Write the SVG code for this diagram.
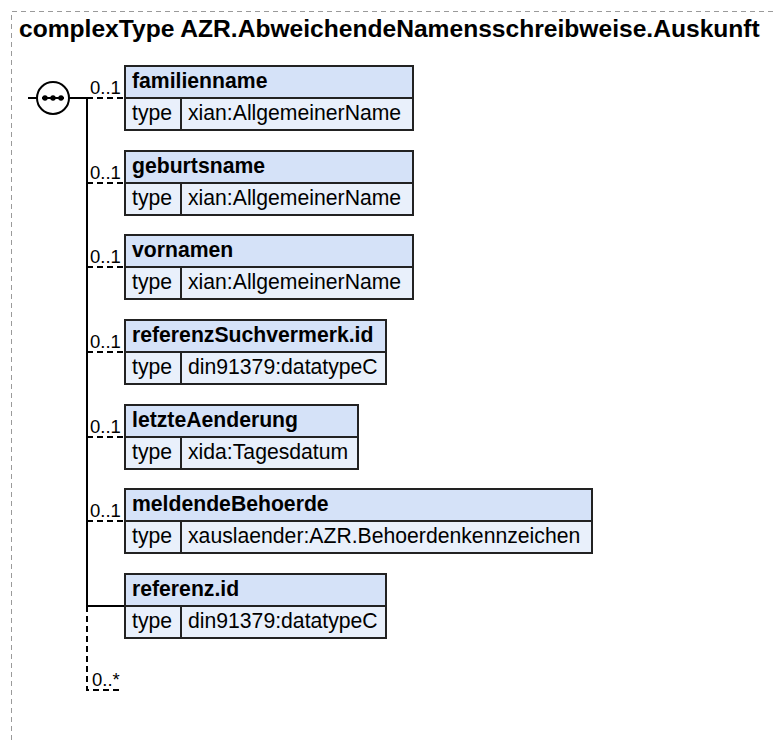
<svg xmlns="http://www.w3.org/2000/svg" width="774" height="740" viewBox="0 0 774 740">
<style>
.frame{fill:none;stroke:#9a9a9a;stroke-width:1;stroke-dasharray:5 4}
.title{font-family:"Liberation Sans",Arial,sans-serif;font-weight:bold;font-size:24.6px;fill:#000}
.hd{fill:#d5e2f8;stroke:#222;stroke-width:2}
.row{fill:#e9f0fb;stroke:#222;stroke-width:2}
.name{font-family:"Liberation Sans",Arial,sans-serif;font-weight:bold;font-size:21.2px;fill:#000}
.txt{font-family:"Liberation Sans",Arial,sans-serif;font-size:21.2px;fill:#000}
.card{font-family:"Liberation Sans",Arial,sans-serif;font-size:18.5px;fill:#000}
.solid{fill:none;stroke:#000;stroke-width:2}
.dash{fill:none;stroke:#000;stroke-width:2;stroke-dasharray:6 4}
</style>
<path class="frame" d="M11.5 740 V11.5 H774"/>
<text class="title" x="19" y="37">complexType AZR.AbweichendeNamensschreibweise.Auskunft</text>

<g id="connectors">
  <line class="solid" x1="28" y1="98" x2="37" y2="98"/>
  <line class="solid" x1="69" y1="98" x2="87" y2="98"/>
  <line class="solid" x1="87" y1="97" x2="87" y2="606"/>
  <line class="solid" x1="87" y1="606" x2="125" y2="606"/>
  <path class="dash" d="M87 606 V690 H122"/>
  <line class="dash" x1="87" y1="98" x2="125" y2="98"/>
  <line class="dash" x1="87" y1="183" x2="125" y2="183"/>
  <line class="dash" x1="87" y1="267" x2="125" y2="267"/>
  <line class="dash" x1="87" y1="352" x2="125" y2="352"/>
  <line class="dash" x1="87" y1="437" x2="125" y2="437"/>
  <line class="dash" x1="87" y1="521" x2="125" y2="521"/>
  <text class="card" x="90" y="94">0..1</text>
  <text class="card" x="90" y="179">0..1</text>
  <text class="card" x="90" y="263">0..1</text>
  <text class="card" x="90" y="348">0..1</text>
  <text class="card" x="90" y="433">0..1</text>
  <text class="card" x="90" y="517">0..1</text>
  <text class="card" x="92" y="686">0..*</text>
</g>

<g id="sequence">
  <ellipse cx="53" cy="98" rx="16" ry="16" fill="#fff" stroke="#000" stroke-width="2"/>
  <line x1="42" y1="98" x2="64" y2="98" stroke="#000" stroke-width="2"/>
  <circle cx="45" cy="98" r="2.7" fill="#000"/>
  <circle cx="53" cy="98" r="2.7" fill="#000"/>
  <circle cx="61" cy="98" r="2.7" fill="#000"/>
</g>

<g id="familienname">
  <rect class="hd" x="125" y="66" width="288" height="32"/>
  <rect class="row" x="125" y="98" width="288" height="32"/>
  <line x1="181" y1="98" x2="181" y2="130" stroke="#222" stroke-width="2"/>
  <text class="name" x="132" y="88">familienname</text>
  <text class="txt" x="132" y="120">type</text>
  <text class="txt" x="188" y="120">xian:AllgemeinerName</text>
</g>

<g id="geburtsname">
  <rect class="hd" x="125" y="151" width="288" height="32"/>
  <rect class="row" x="125" y="183" width="288" height="32"/>
  <line x1="181" y1="183" x2="181" y2="215" stroke="#222" stroke-width="2"/>
  <text class="name" x="132" y="173">geburtsname</text>
  <text class="txt" x="132" y="205">type</text>
  <text class="txt" x="188" y="205">xian:AllgemeinerName</text>
</g>

<g id="vornamen">
  <rect class="hd" x="125" y="235" width="288" height="32"/>
  <rect class="row" x="125" y="267" width="288" height="32"/>
  <line x1="181" y1="267" x2="181" y2="299" stroke="#222" stroke-width="2"/>
  <text class="name" x="132" y="257">vornamen</text>
  <text class="txt" x="132" y="289">type</text>
  <text class="txt" x="188" y="289">xian:AllgemeinerName</text>
</g>

<g id="referenzSuchvermerk.id">
  <rect class="hd" x="125" y="320" width="261" height="32"/>
  <rect class="row" x="125" y="352" width="261" height="32"/>
  <line x1="181" y1="352" x2="181" y2="384" stroke="#222" stroke-width="2"/>
  <text class="name" x="132" y="342">referenzSuchvermerk.id</text>
  <text class="txt" x="132" y="374">type</text>
  <text class="txt" x="188" y="374">din91379:datatypeC</text>
</g>

<g id="letzteAenderung">
  <rect class="hd" x="125" y="405" width="233" height="32"/>
  <rect class="row" x="125" y="437" width="233" height="32"/>
  <line x1="181" y1="437" x2="181" y2="469" stroke="#222" stroke-width="2"/>
  <text class="name" x="132" y="427">letzteAenderung</text>
  <text class="txt" x="132" y="459">type</text>
  <text class="txt" x="188" y="459">xida:Tagesdatum</text>
</g>

<g id="meldendeBehoerde">
  <rect class="hd" x="125" y="489" width="467" height="32"/>
  <rect class="row" x="125" y="521" width="467" height="32"/>
  <line x1="181" y1="521" x2="181" y2="553" stroke="#222" stroke-width="2"/>
  <text class="name" x="132" y="511">meldendeBehoerde</text>
  <text class="txt" x="132" y="543">type</text>
  <text class="txt" x="188" y="543">xauslaender:AZR.Behoerdenkennzeichen</text>
</g>

<g id="referenz.id">
  <rect class="hd" x="125" y="574" width="261" height="32"/>
  <rect class="row" x="125" y="606" width="261" height="32"/>
  <line x1="181" y1="606" x2="181" y2="638" stroke="#222" stroke-width="2"/>
  <text class="name" x="132" y="596">referenz.id</text>
  <text class="txt" x="132" y="628">type</text>
  <text class="txt" x="188" y="628">din91379:datatypeC</text>
</g>
</svg>
